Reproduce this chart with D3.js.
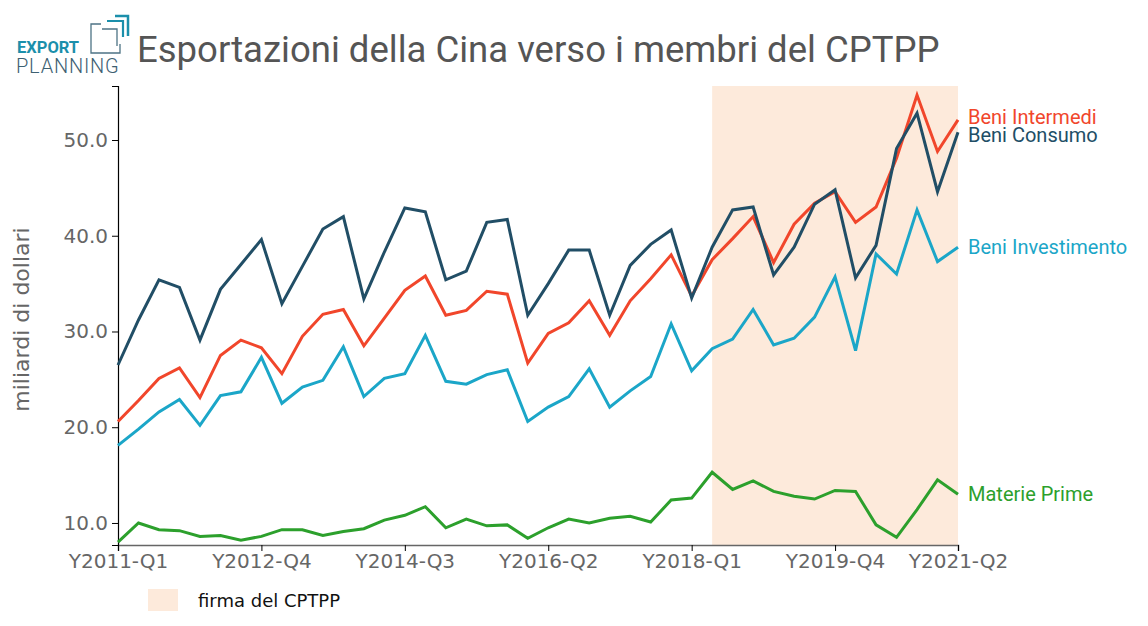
<!DOCTYPE html>
<html><head><meta charset="utf-8">
<script src="https://cdn.jsdelivr.net/npm/d3@7"></script>
<style>body{margin:0;background:#fff}svg{display:block}</style>
</head><body>
<svg id="chart" width="1148" height="626"></svg>
<script>
const quarters = [];
for (let y = 2011; y <= 2021; y++) for (let q = 1; q <= 4; q++) { if (y === 2021 && q > 2) break; quarters.push("Y" + y + "-Q" + q); }
const tickLabels = ["Y2011-Q1","Y2012-Q4","Y2014-Q3","Y2016-Q2","Y2018-Q1","Y2019-Q4","Y2021-Q2"];
const beniIntermedi = [20.6,22.8,25.1,26.2,23.1,27.5,29.1,28.3,25.6,29.5,31.8,32.3,28.5,31.4,34.3,35.8,31.7,32.2,34.2,33.9,26.7,29.8,30.9,33.2,29.6,33.2,35.5,38.0,33.7,37.5,39.7,42.0,37.2,41.2,43.4,44.6,41.4,43.0,48.1,54.7,48.8,52.1];
const beniConsumo = [26.5,31.2,35.4,34.6,29.1,34.4,37.0,39.6,32.9,36.8,40.7,42.0,33.4,38.3,42.9,42.5,35.4,36.3,41.4,41.7,31.7,35.0,38.5,38.5,31.7,36.9,39.1,40.6,33.5,38.8,42.7,43.0,35.9,38.8,43.3,44.8,35.6,39.0,49.1,52.8,44.6,50.8];
const beniInvestimento = [18.1,19.8,21.6,22.9,20.2,23.3,23.7,27.3,22.5,24.2,24.9,28.4,23.2,25.1,25.6,29.6,24.8,24.5,25.5,26.0,20.6,22.1,23.2,26.1,22.1,23.8,25.3,30.8,25.9,28.2,29.2,32.3,28.6,29.3,31.5,35.7,28.0,38.1,36.0,42.7,37.3,38.8];
const materiePrime = [8.0,10.0,9.3,9.2,8.6,8.7,8.2,8.6,9.3,9.3,8.7,9.1,9.4,10.3,10.8,11.7,9.5,10.4,9.7,9.8,8.4,9.5,10.4,10.0,10.5,10.7,10.1,12.4,12.6,15.3,13.5,14.4,13.3,12.8,12.5,13.4,13.3,9.8,8.5,11.4,14.5,13.0];
const seriesNames = ["Beni Intermedi","Beni Consumo","Beni Investimento","Materie Prime"];
const seriesColors = ["#f1462b","#214e66","#1ba6c8","#2ca02c"];
const shadeStart = "Y2018-Q2", shadeEnd = "Y2021-Q2";
const yTicks = [10,20,30,40,50];
const title = "Esportazioni della Cina verso i membri del CPTPP";
const yLabel = "miliardi di dollari";
const legendLabel = "firma del CPTPP";

const series = [beniIntermedi, beniConsumo, beniInvestimento, materiePrime];
const svg = d3.select("#chart");
const L = 118, R = 958, T = 86, B = 545;
const x = d3.scalePoint().domain(quarters).range([L, R]);
const y = d3.scaleLinear().domain([7.7, 55.64]).range([B, T]);

// shaded region
svg.append("rect").attr("x", x(shadeStart)).attr("y", T)
  .attr("width", x(shadeEnd) - x(shadeStart)).attr("height", B - T)
  .attr("fill", "#fdeadb");

// axes
const gx = svg.append("g").attr("transform", `translate(0,${B})`)
  .call(d3.axisBottom(x).tickValues(tickLabels).tickSize(6).tickPadding(3));
gx.select(".domain").attr("stroke", "#666").attr("stroke-width", 1.5);
gx.selectAll(".tick line").attr("stroke", "#000");
gx.selectAll("text").attr("font-family", "DejaVu Sans").attr("font-size", 20).attr("fill", "#666");

const gy = svg.append("g").attr("transform", `translate(${L},0)`)
  .call(d3.axisLeft(y).tickValues(yTicks).tickFormat(d3.format(".1f")).tickSize(6).tickPadding(4));
gy.select(".domain").attr("stroke", "#000").attr("stroke-width", 1.2);
gy.selectAll("text").attr("font-family", "DejaVu Sans").attr("font-size", 20).attr("fill", "#666");

// lines
const line = d3.line().x((d, i) => x(quarters[i])).y(d => y(d));
series.forEach((s, k) => {
  svg.append("path").datum(s).attr("d", line).attr("fill", "none")
    .attr("stroke", seriesColors[k]).attr("stroke-width", 3).attr("stroke-linejoin", "miter");
});

// end labels with simple collision avoidance
const labels = series.map((s, k) => ({ k, y: y(s[s.length - 1]) }));
labels.sort((a, b) => a.y - b.y);
const minGap = 18;
for (let iter = 0; iter < 20; iter++) {
  for (let i = 1; i < labels.length; i++) {
    const gap = labels[i].y - labels[i - 1].y;
    if (gap < minGap) { const d = (minGap - gap) / 2; labels[i].y += d; labels[i - 1].y -= d; }
  }
}
labels.forEach(l => {
  svg.append("text").attr("x", R + 10).attr("y", l.y).attr("dy", "0.35em")
    .attr("font-family", "Roboto").attr("font-size", 20).attr("fill", seriesColors[l.k])
    .text(seriesNames[l.k]);
});

// y label
svg.append("text").attr("transform", `translate(29,${(T + B) / 2 + 4}) rotate(-90)`)
  .attr("text-anchor", "middle").attr("font-family", "DejaVu Sans").attr("font-size", 22)
  .attr("fill", "#666").text(yLabel);

// title
svg.append("text").attr("x", 137).attr("y", 62).attr("font-family", "Roboto")
  .attr("font-size", 36.5).attr("fill", "#555").text(title);

// legend
svg.append("rect").attr("x", 148).attr("y", 589).attr("width", 30).attr("height", 22).attr("fill", "#fdeadb");
svg.append("text").attr("x", 198).attr("y", 607).attr("font-family", "DejaVu Sans")
  .attr("font-size", 18).attr("fill", "#111").text(legendLabel);

// logo
const logo = svg.append("g");
logo.append("text").attr("x", 17).attr("y", 53).attr("font-family", "Roboto").attr("font-weight", 700)
  .attr("font-size", 16.5).attr("fill", "#1b8fab").text("EXPORT");
logo.append("text").attr("x", 16).attr("y", 73).attr("font-family", "Roboto").attr("font-weight", 300)
  .attr("font-size", 20).attr("fill", "#3d6072").attr("letter-spacing", "0.8").text("PLANNING");
logo.append("path").attr("d", "M101,24 H91 V53 H120 V44").attr("fill", "none").attr("stroke", "#4d7385").attr("stroke-width", 1.3);
logo.append("path").attr("d", "M102,29 H117 V46").attr("fill", "none").attr("stroke", "#4d7385").attr("stroke-width", 1.3);
logo.append("path").attr("d", "M107,21 H123 V37").attr("fill", "none").attr("stroke", "#1b8fab").attr("stroke-width", 2.2);
logo.append("path").attr("d", "M115,16 H128 V36").attr("fill", "none").attr("stroke", "#1b8fab").attr("stroke-width", 2.5);
</script>
</body></html>
